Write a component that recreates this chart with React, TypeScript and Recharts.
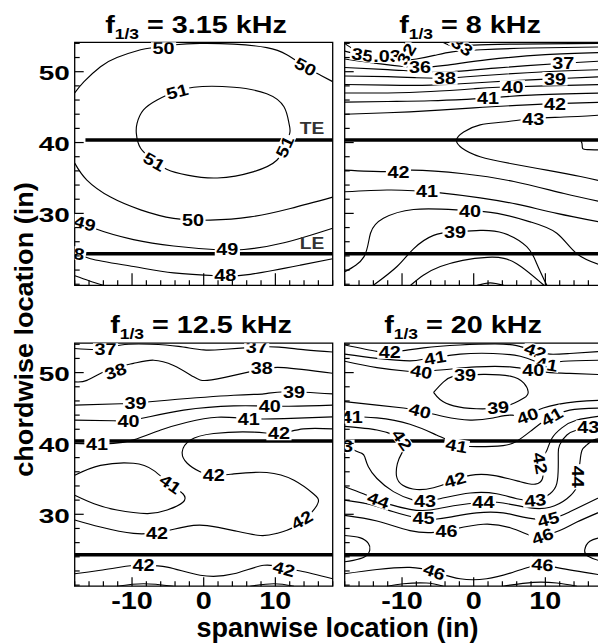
import React from 'react';
import { ComposedChart, Line, XAxis, YAxis, Scatter, ReferenceLine, ReferenceArea } from 'recharts';

type Pt = { x: number; y: number };
type Lbl = { x: number; y: number; t: string; a?: number; c?: string; bg?: boolean; fs?: number };

const P = (arr: number[][]): Pt[] => arr.map(([x, y]) => ({ x, y }));

// ---------- axes ----------
const X_DOMAIN: [number, number] = [-18, 18];
const Y_DOMAIN: [number, number] = [19.85, 54.15];
const X_TICKS = [-18, -16, -14, -12, -10, -8, -6, -4, -2, 0, 2, 4, 6, 8, 10, 12, 14, 16, 18];
const Y_TICKS = [20, 22, 24, 26, 28, 30, 32, 34, 36, 38, 40, 42, 44, 46, 48, 50, 52, 54];
const X_LABELS = [-10, 0, 10];
const Y_LABELS = [30, 40, 50];
const TE_Y = 40.35;
const LE_Y = 24.3;

const TITLES = ['3.15 kHz', '8 kHz', '12.5 kHz', '20 kHz'];

// ---------- panel 1 : 3.15 kHz ----------
const p1_50a = P([[-18, 47.0], [-16.7, 48.6], [-14.4, 50.7], [-12.1, 52.0], [-8.8, 53.1], [-7.0, 53.4], [-4.0, 53.8], [-0.5, 54.0], [4.2, 53.9], [8.8, 53.4], [11.6, 52.4], [14.2, 50.7], [16.3, 49.5], [18, 48.6]]);
const p1_50b = P([[-18, 37.1], [-16.3, 34.7], [-13.0, 32.3], [-8.8, 30.5], [-4.2, 29.3], [0.9, 29.05], [6.5, 29.5], [12.1, 30.7], [18, 32.3]]);
const p1_51 = P([[-5.1, 46.7], [-1.4, 47.8], [4.2, 47.8], [8.8, 46.9], [11.2, 45.05], [11.9, 42.7], [12.0, 41.3], [11.2, 39.4], [10.2, 37.5], [7.0, 35.9], [1.9, 35.0], [-2.3, 35.4], [-5.1, 36.2], [-7.0, 37.5], [-8.8, 39.2], [-9.4, 41.3], [-9.3, 42.7], [-8.4, 44.6], [-6.5, 46.0], [-5.1, 46.7]]);
const p1_49 = P([[-18, 29.3], [-15.3, 27.9], [-9.8, 26.3], [-4.2, 25.4], [1.4, 24.9], [5.6, 24.9], [11.2, 25.85], [18, 27.9]]);
const p1_48 = P([[-18, 24.8], [-15.8, 23.6], [-9.8, 22.5], [-4.2, 21.6], [1.9, 21.2], [6.5, 21.4], [13.5, 22.7], [18, 23.6]]);
const p1_47 = P([[-18, 21.2], [-16, 20.5], [-14, 19.85]]);
const p1_labels: Lbl[] = [
  { x: -5.6, y: 53.4, t: '50' }, { x: 14.2, y: 50.7, t: '50', a: 28 },
  { x: -3.7, y: 47.2, t: '51', a: -15 }, { x: 11.3, y: 39.4, t: '51', a: -65 }, { x: -6.9, y: 37.3, t: '51', a: 30 },
  { x: -1.5, y: 29.1, t: '50' }, { x: -16.6, y: 28.6, t: '49', a: 15 }, { x: 3.3, y: 24.9, t: '49' },
  { x: 3.0, y: 21.3, t: '48' }, { x: -17.4, y: 24.3, t: '8', a: 10 },
  { x: 15.1, y: 42.0, t: 'TE', c: '#333', bg: false, fs: 16 }, { x: 15.1, y: 25.75, t: 'LE', c: '#333', bg: false, fs: 16 },
];

// ---------- panel 2 : 8 kHz ----------
const p2_33 = P([[-4.3, 54.15], [-2.8, 53.6], [0, 53.75], [6, 53.9], [18, 54.0]]);
const p2_32 = P([[-9.8, 54.15], [-9.0, 53.6], [-9.2, 53.1]]);
const p2_34 = P([[-18, 54.0], [-17, 53.3], [-16.2, 52.8]]);
const p2_35 = P([[-18, 52.9], [-15.6, 52.3], [-12.5, 51.8], [-10, 51.6], [-8, 51.8], [-5.5, 52.3], [-3, 52.8], [1, 53.1], [8, 53.35], [18, 53.5]]);
const p2_36 = P([[-18, 51.8], [-13, 51.1], [-9.5, 50.7], [-7.5, 50.6], [-4, 50.9], [2, 51.7], [10, 52.4], [18, 52.7]]);
const p2_37 = P([[-18, 50.6], [-12, 50.3], [-7, 50.0], [-3, 50.0], [3, 50.5], [12.5, 51.2], [18, 51.5]]);
const p2_38 = P([[-18, 49.4], [-12, 49.3], [-8, 49.15], [-4, 49.1], [2, 49.5], [10, 50.0], [18, 50.3]]);
const p2_39 = P([[-18, 48.2], [-12, 48.1], [-6, 48.1], [0, 48.4], [5, 48.7], [11.35, 49.0], [18, 49.3]]);
const p2_40 = P([[-18, 47.0], [-12, 47.0], [-6, 47.2], [0, 47.6], [3.4, 47.8], [10, 48.0], [18, 48.2]]);
const p2_41 = P([[-18, 45.7], [-12, 45.8], [-6, 45.9], [-1, 46.1], [2.3, 46.3], [8, 46.7], [18, 47.0]]);
const p2_42 = P([[-18, 44.0], [-12, 44.2], [-6, 44.5], [0, 44.9], [6, 45.25], [11.35, 45.5], [18, 45.7]]);
const p2_43 = P([[18, 43.9], [12.6, 43.6], [8.4, 43.4], [4.2, 42.9], [0.9, 42.5], [-1.4, 41.5], [-2.4, 40.35], [-1.6, 39.2], [0.9, 38.0], [5.1, 37.05], [10.2, 36.1], [14.9, 35.2], [18, 34.5]]);
const p2_44 = P([[18, 40.35], [15.3, 40.35], [15.1, 39.9], [15.2, 39.15], [16, 39.0], [18, 38.95]]);
const p2_42b = P([[-18, 36.1], [-12.1, 35.9], [-8.6, 36.1], [-1.4, 35.6], [5.6, 34.5], [12.6, 32.8], [18, 31.6]]);
const p2_41b = P([[-18, 33.05], [-12.1, 33.3], [-8.4, 33.2], [-4.65, 32.9], [0.9, 32.2], [6.0, 31.3], [11.6, 30.0], [18, 28.7]]);
const p2_40b = P([[-18, 21.75], [-15.3, 23.9], [-14.4, 27.2], [-12.6, 29.3], [-8.4, 30.55], [-2.3, 30.5], [3.3, 30.0], [7.9, 28.8], [11.6, 27.2], [14.4, 24.3], [18, 22.6]]);
const p2_39b = P([[-14.0, 19.85], [-10.7, 22.5], [-8.4, 25.0], [-5.6, 26.9], [-2.6, 27.4], [0.9, 27.6], [4.2, 27.2], [7.4, 25.3], [8.8, 22.9], [10.2, 19.85]]);
const p2_38b = P([[-8.8, 19.85], [-4.65, 22.5], [1.9, 23.8], [6.0, 22.9], [9.8, 19.85]]);
const p2_37b = P([[0.5, 19.85], [2.3, 20.2], [4.2, 19.85]]);
const p2_labels: Lbl[] = [
  { x: -15.5, y: 52.4, t: '35', a: 10 }, { x: -12.1, y: 52.2, t: '.03' }, { x: -9.4, y: 52.5, t: '32', a: -60 },
  { x: -1.6, y: 53.6, t: '33', a: 35 }, { x: -7.5, y: 50.6, t: '36' }, { x: -4.0, y: 49.1, t: '38' },
  { x: 12.5, y: 51.2, t: '37' }, { x: 11.35, y: 49.0, t: '39' }, { x: 5.4, y: 47.85, t: '40' },
  { x: 2.0, y: 46.25, t: '41' }, { x: 11.35, y: 45.5, t: '42' }, { x: 8.3, y: 43.3, t: '43' },
  { x: -10.5, y: 35.9, t: '42' }, { x: -6.5, y: 33.15, t: '41' }, { x: -0.5, y: 30.3, t: '40' }, { x: -2.6, y: 27.4, t: '39' },
];

// ---------- panel 3 : 12.5 kHz ----------
const p3_37 = P([[-18, 53.4], [-14.2, 53.3], [-11.5, 53.9], [-7.4, 54.0], [-3.5, 53.7], [0, 53.2], [3, 53.3], [7.4, 53.6], [10.5, 53.6], [14.2, 53.2], [18, 52.9]]);
const p3_38 = P([[-18, 48.7], [-16.3, 48.9], [-13.5, 50.3], [-9.8, 51.3], [-7.0, 51.75], [-4.2, 51.0], [-1.4, 49.4], [0.5, 48.9], [4.2, 49.6], [8.1, 50.5], [11.2, 50.7], [18, 49.9]]);
const p3_39 = P([[-18, 45.4], [-11.6, 45.6], [-9.5, 45.7], [-5.1, 46.1], [4.2, 46.8], [8.4, 47.0], [11.4, 47.3], [18, 47.0]]);
const p3_40 = P([[-18, 43.3], [-12.6, 43.2], [-10.5, 43.2], [-7.9, 43.7], [-2.8, 44.7], [4.2, 45.3], [11.6, 45.25], [18, 45.4]]);
const p3_41 = P([[-18, 40.0], [-14.9, 39.9], [-12.6, 40.0], [-9.8, 40.5], [-6.0, 41.9], [-2.3, 43.0], [1.9, 43.7], [6.3, 43.5], [11.2, 43.5], [18, 43.75]]);
const p3_41loop = P([[-18, 35.5], [-14.4, 36.9], [-9.8, 37.2], [-7.0, 36.2], [-4.7, 34.3], [-2.9, 32.9], [-2.9, 31.7], [-5.1, 30.6], [-7.9, 30.1], [-12.1, 30.6], [-15.3, 31.5], [-18, 32.7]]);
const p3_42 = P([[18, 42.05], [13.9, 42.05], [10.5, 41.4], [7.0, 41.6], [1.4, 41.4], [-1.9, 40.45], [-3.0, 38.8], [-2.3, 37.2], [-0.5, 36.0], [1.4, 35.5], [4.2, 35.7], [8.8, 35.9], [12.6, 34.8], [15.3, 32.9], [16.0, 31.75], [14.9, 30.1], [12.6, 28.2], [10.2, 27.3], [7.9, 27.0], [4.2, 27.7], [0.5, 28.4], [-2.3, 28.3], [-6.0, 27.5], [-9.8, 27.3], [-14.4, 28.2], [-18, 29.2]]);
const p3_42b = P([[-18, 21.6], [-14.4, 22.1], [-9.8, 22.8], [-8.4, 22.8], [-5.1, 22.55], [-0.5, 21.4], [4.2, 21.6], [8.4, 22.8], [11.2, 22.4], [13.5, 22.0], [18, 20.9]]);
const p3_43a = P([[-12.1, 19.85], [-8.4, 20.2], [-4.2, 19.85]]);
const p3_43b = P([[6.5, 19.85], [9.8, 20.2], [12.6, 19.85]]);
const p3_labels: Lbl[] = [
  { x: -13.7, y: 53.3, t: '37' }, { x: 7.4, y: 53.6, t: '37' }, { x: -12.3, y: 50.2, t: '38', a: -20 },
  { x: 8.1, y: 50.6, t: '38' }, { x: -9.5, y: 45.7, t: '39' }, { x: 12.6, y: 47.25, t: '39' },
  { x: -10.5, y: 43.2, t: '40' }, { x: 9.2, y: 45.3, t: '40' }, { x: -14.9, y: 39.9, t: '41' },
  { x: 6.3, y: 43.5, t: '41' }, { x: 10.5, y: 41.4, t: '42' }, { x: -4.65, y: 34.3, t: '41', a: 35 },
  { x: 1.4, y: 35.5, t: '42' }, { x: 13.7, y: 29.2, t: '42', a: -30 }, { x: -6.5, y: 27.4, t: '42' },
  { x: -8.4, y: 22.8, t: '42' }, { x: 11.2, y: 22.3, t: '42', a: 15 },
];

// ---------- panel 4 : 20 kHz ----------
const p4_42t = P([[-18, 53.9], [-13.5, 53.0], [-11.7, 52.9], [-9.8, 53.1], [-7.0, 53.5], [-1.9, 53.9], [3, 54.05], [6, 53.8], [8.6, 53.05], [10.65, 52.6], [13.4, 52.7], [18, 53.0]]);
const p4_41t = P([[-18, 52.6], [-13.5, 52.0], [-8.9, 51.65], [-7.0, 51.9], [-5.4, 52.1], [-1.9, 52.6], [2.7, 52.7], [6.5, 52.3], [8.8, 51.5], [10.2, 51.2], [12.5, 51.6], [18, 51.75]]);
const p4_40t = P([[-18, 51.6], [-13.5, 50.7], [-8.9, 50.15], [-7.3, 50.15], [-4.2, 50.4], [0.4, 50.8], [5.1, 50.8], [8.3, 50.3], [10.65, 50.0], [13.4, 49.9], [18, 49.7]]);
const p4_39 = P([[-5.6, 47.2], [-4.2, 48.7], [-2.8, 49.5], [-1.2, 49.65], [1.35, 49.75], [5.1, 49.5], [7.0, 48.5], [7.6, 47.3], [7.0, 46.4], [5.1, 45.45], [3.4, 45.0], [0.4, 44.9], [-2.8, 45.3], [-4.7, 46.2], [-5.6, 47.2]]);
const p4_40b = P([[-18, 45.9], [-13.5, 45.4], [-9.8, 45.0], [-7.5, 44.6], [-4.2, 43.8], [-0.5, 43.3], [2.7, 43.6], [5.1, 44.0], [7.5, 44.0], [9.7, 45.0], [14.4, 45.9], [18, 46.1]]);
const p4_41m = P([[-18, 43.8], [-13.5, 43.6], [-8.9, 42.7], [-5.2, 41.2], [-3.3, 40.3], [-2.4, 39.75], [0.4, 39.55], [4.1, 39.7], [6.0, 40.3], [7.9, 41.7], [9.7, 43.1], [10.9, 43.8], [13.4, 44.7], [18, 45.0]]);
const p4_42m = P([[-18, 42.4], [-13.5, 41.9], [-11.2, 41.2], [-10.0, 40.5], [-9.6, 39.6], [-10.05, 38.6], [-10.65, 37.15], [-10.75, 35.3], [-9.9, 34.1], [-7.95, 33.5], [-5.6, 33.75], [-3.8, 34.35], [-2.6, 34.9], [-0.5, 35.5], [2.7, 35.5], [6.5, 34.6], [8.6, 34.25], [9.6, 35.05], [9.5, 36.5], [9.3, 37.3], [9.7, 38.3], [10.2, 39.0], [10.9, 40.7], [12.3, 42.2], [14.4, 43.3], [18, 43.9]]);
const p4_43 = P([[-18, 39.9], [-16.8, 39.1], [-15.6, 38.6], [-15.2, 38.1], [-14.7, 36.7], [-13.5, 35.05], [-11.2, 33.2], [-8.4, 32.0], [-6.8, 31.9], [-4.7, 32.2], [-0.5, 33.0], [3.2, 32.9], [6.0, 32.2], [8.6, 32.0], [10.65, 32.9], [11.6, 34.35], [11.8, 36.7], [11.8, 38.6], [12.0, 39.8], [13.0, 41.2], [14.4, 41.9], [16.0, 42.25], [18, 42.5]]);
const p4_44 = P([[-18, 33.9], [-15.4, 32.9], [-13.3, 32.0], [-12.1, 31.5], [-8.9, 30.7], [-6.1, 30.6], [-2.8, 31.2], [1.35, 31.7], [4.1, 31.6], [7.9, 30.9], [10.65, 31.0], [13.0, 32.2], [14.4, 33.9], [14.6, 35.3], [14.8, 37.15], [15.1, 39.0], [15.8, 39.8], [16.7, 40.5], [18, 40.7]]);
const p4_45 = P([[-18, 32.0], [-14.5, 31.4], [-11.2, 30.35], [-7.5, 29.4], [-5.4, 29.3], [-3.3, 29.6], [0.4, 30.2], [4.1, 30.2], [6.9, 29.6], [10.4, 29.3], [13.4, 30.35], [18, 32.6]]);
const p4_46 = P([[-18, 29.85], [-13.5, 29.05], [-8.9, 27.7], [-5.5, 27.45], [-2.8, 27.9], [1.35, 28.6], [5.1, 28.1], [7.9, 27.0], [9.6, 26.9], [12.0, 27.7], [14.4, 28.9], [18, 30.5]]);
const p4_47L = P([[-18, 27.0], [-15.9, 26.7], [-14.7, 25.9], [-14.5, 24.95], [-15.2, 24.0], [-16.8, 23.5], [-18, 23.3]]);
const p4_47R = P([[18, 26.8], [16.2, 26.2], [15.5, 25.0], [15.9, 24.1], [17.4, 23.5], [18, 23.45]]);
const p4_46b = P([[-18, 21.6], [-13.5, 22.2], [-8.9, 22.5], [-5.5, 21.9], [-1.9, 20.9], [1.8, 20.9], [5.1, 21.7], [7.9, 22.6], [9.6, 22.9], [12.0, 22.4], [18, 21.4]]);
const p4_45a = P([[-12.1, 19.85], [-9.8, 20.2], [-6.6, 20.3], [-4.2, 19.85]]);
const p4_45b = P([[4.1, 19.85], [8.3, 20.4], [11.6, 20.3], [14.4, 19.85]]);
const p4_labels: Lbl[] = [
  { x: -11.7, y: 52.9, t: '42' }, { x: 8.6, y: 53.05, t: '42', a: 20 }, { x: -5.4, y: 52.1, t: '41', a: -10 },
  { x: 10.2, y: 51.2, t: '41', a: 10 }, { x: -7.3, y: 50.15, t: '40', a: 10 }, { x: 8.3, y: 50.3, t: '40' },
  { x: -1.2, y: 49.7, t: '39' }, { x: 3.4, y: 45.1, t: '39', a: -5 }, { x: -7.5, y: 44.6, t: '40', a: 15 },
  { x: 7.5, y: 43.9, t: '40', a: -20 }, { x: -17.0, y: 43.75, t: '41' }, { x: -2.4, y: 39.7, t: '41', a: 10 },
  { x: 10.9, y: 43.8, t: '41', a: -30 }, { x: -10.0, y: 40.5, t: '42', a: 55 }, { x: 16.0, y: 42.3, t: '43' },
  { x: -17.6, y: 39.6, t: '3' }, { x: -2.6, y: 34.9, t: '42', a: -15 }, { x: 9.3, y: 37.2, t: '42', a: 80 },
  { x: -13.3, y: 32.0, t: '44', a: 20 }, { x: -6.8, y: 31.9, t: '43' }, { x: 1.35, y: 31.7, t: '44' },
  { x: 8.6, y: 32.0, t: '43', a: -5 }, { x: 14.6, y: 35.3, t: '44', a: 90 }, { x: -7.0, y: 29.4, t: '45' },
  { x: 10.4, y: 29.3, t: '45', a: -15 }, { x: -3.8, y: 27.7, t: '46' }, { x: 9.6, y: 26.9, t: '46', a: -20 },
  { x: -5.5, y: 21.9, t: '46', a: 20 }, { x: 9.6, y: 22.9, t: '46', a: 5 },
];

const PANEL_LINES: Pt[][][] = [
  [p1_50a, p1_50b, p1_51, p1_49, p1_48, p1_47],
  [p2_33, p2_32, p2_34, p2_35, p2_36, p2_37, p2_38, p2_39, p2_40, p2_41, p2_42, p2_43, p2_44, p2_42b, p2_41b, p2_40b, p2_39b, p2_38b, p2_37b],
  [p3_37, p3_38, p3_39, p3_40, p3_41, p3_41loop, p3_42, p3_42b, p3_43a, p3_43b],
  [p4_42t, p4_41t, p4_40t, p4_39, p4_40b, p4_41m, p4_42m, p4_43, p4_44, p4_45, p4_46, p4_47L, p4_47R, p4_46b, p4_45a, p4_45b],
];
const PANEL_LABELS: Lbl[][] = [p1_labels, p2_labels, p3_labels, p4_labels];

// ---------- layout (pixels) ----------
const FONT = "'Liberation Sans', Arial, Helvetica, sans-serif";
const PW = 258;
const PH = 243;
const PANEL_POS = [
  { left: 74.7, top: 42.3, title: { x: 196, y: 32.5 } },
  { left: 344.7, top: 42.3, title: { x: 470, y: 32.5 } },
  { left: 74.7, top: 343.2, title: { x: 201, y: 332.5 } },
  { left: 344.7, top: 343.2, title: { x: 463, y: 332.5 } },
];

const charEm = (ch: string) => (ch === '.' ? 0.28 : ch === 'T' || ch === 'E' || ch === 'L' ? 0.64 : 0.56);

const LabelShape = (props: any) => {
  const { cx, cy, payload } = props;
  if (cx == null || cy == null || !payload) return <g />;
  const t = String(payload.t);
  const a = payload.a || 0;
  const fs = payload.fs || 16.5;
  const sx = 1.2;
  const em = t.split('').reduce((s, ch) => s + charEm(ch), 0);
  const w = em * fs * sx + 3;
  const h = fs * 0.82;
  return (
    <g transform={`translate(${cx},${cy}) rotate(${a})`}>
      {payload.bg !== false && <rect x={-w / 2} y={-h / 2} width={w} height={h} fill="#fff" />}
      <text transform={`scale(${sx},1)`} x={0} y={fs * 0.36} textAnchor="middle" fontSize={fs} fontWeight="bold" fontFamily={FONT} fill={payload.c || '#000'}>
        {t}
      </text>
    </g>
  );
};

const makeXTick = (show: boolean, bigMajor: boolean) => (props: any) => {
  const { x, y, payload } = props;
  const v = payload.value;
  const major = X_LABELS.includes(v);
  return (
    <g>
      <line x1={x} x2={x} y1={y} y2={y - (major ? (bigMajor ? 12 : 9) : 5)} stroke="#000" strokeWidth={1.2} />
      {show && major && (
        <text transform={`translate(${x},${y + 23}) scale(1.2,1)`} textAnchor="middle" fontSize={24} fontWeight="bold" fontFamily={FONT} fill="#000">
          {v}
        </text>
      )}
    </g>
  );
};

const makeYTick = (show: boolean) => (props: any) => {
  const { x, y, payload } = props;
  const v = payload.value;
  const major = Y_LABELS.includes(v);
  return (
    <g>
      <line x1={x} x2={x + (major ? 9 : 5)} y1={y} y2={y} stroke="#000" strokeWidth={1.2} />
      {show && major && (
        <text transform={`translate(${x - 5},${y + 8.5}) scale(1.33,1)`} textAnchor="end" fontSize={21} fontWeight="bold" fontFamily={FONT} fill="#000">
          {v}
        </text>
      )}
    </g>
  );
};

const CW = 604;
const CH = 643;
const YW = 60;
const XH = 40;

function Panel({ idx }: { idx: number }) {
  const pos = PANEL_POS[idx];
  const margin = {
    top: pos.top,
    left: pos.left - YW,
    right: CW - pos.left - PW,
    bottom: CH - pos.top - PH - XH,
  };
  const showX = idx >= 2;
  const showY = idx % 2 === 0;
  return (
    <div style={{ position: 'absolute', left: 0, top: 0 }}>
      <ComposedChart width={CW} height={CH} margin={margin}>
        <XAxis
          type="number"
          dataKey="x"
          domain={X_DOMAIN}
          allowDataOverflow
          ticks={X_TICKS}
          interval={0}
          tickSize={0}
          tickMargin={0}
          axisLine={false}
          tickLine={false}
          height={XH}
          tick={makeXTick(showX, idx < 2)}
        />
        <YAxis
          type="number"
          dataKey="y"
          domain={Y_DOMAIN}
          allowDataOverflow
          ticks={Y_TICKS}
          interval={0}
          tickSize={0}
          tickMargin={0}
          axisLine={false}
          tickLine={false}
          width={YW}
          tick={makeYTick(showY)}
        />
        {PANEL_LINES[idx].map((pts, i) => (
          <Line
            key={`l${idx}-${i}`}
            data={pts}
            dataKey="y"
            type="natural"
            stroke="#000"
            strokeWidth={1.15}
            dot={false}
            activeDot={false}
            isAnimationActive={false}
          />
        ))}
        {idx === 0 ? (
          <ReferenceLine segment={[{ x: -16.5, y: TE_Y }, { x: 18, y: TE_Y }]} stroke="#000" strokeWidth={3.5} />
        ) : (
          <ReferenceLine y={TE_Y} stroke="#000" strokeWidth={3.5} />
        )}
        <ReferenceLine y={LE_Y} stroke="#000" strokeWidth={3.5} />
        <Scatter data={PANEL_LABELS[idx]} dataKey="y" shape={LabelShape} isAnimationActive={false} />
        <ReferenceArea x1={X_DOMAIN[0]} x2={X_DOMAIN[1]} y1={Y_DOMAIN[0]} y2={Y_DOMAIN[1]} fill="none" fillOpacity={0} stroke="#000" strokeWidth={1.3} />
      </ComposedChart>
    </div>
  );
}

export default function App() {
  return (
    <div style={{ position: 'absolute', left: 0, top: 0, width: 598, height: 643, overflow: 'hidden', background: '#fff' }}>
      {[0, 1, 2, 3].map((i) => (
        <Panel key={i} idx={i} />
      ))}
      <svg width={598} height={643} style={{ position: 'absolute', left: 0, top: 0, pointerEvents: 'none' }}>
        {PANEL_POS.map((p, i) => (
          <text key={i} transform={`translate(${p.title.x},${p.title.y}) scale(1.25,1)`} textAnchor="middle" fontSize={23} fontWeight="bold" fontFamily={FONT} fill="#000">
            <tspan>f</tspan>
            <tspan fontSize={14} dy={6}>1/3</tspan>
            <tspan dy={-6}>{'\u00a0=\u00a0' + TITLES[i]}</tspan>
          </text>
        ))}
        <text x={337.5} y={637} textAnchor="middle" fontSize={27} fontWeight="bold" fontFamily={FONT} fill="#000">
          spanwise location (in)
        </text>
        <text transform="translate(33,329.5) rotate(-90) scale(1.04,1)" textAnchor="middle" fontSize={26} fontWeight="bold" fontFamily={FONT} fill="#000">
          chordwise location (in)
        </text>
      </svg>
    </div>
  );
}
